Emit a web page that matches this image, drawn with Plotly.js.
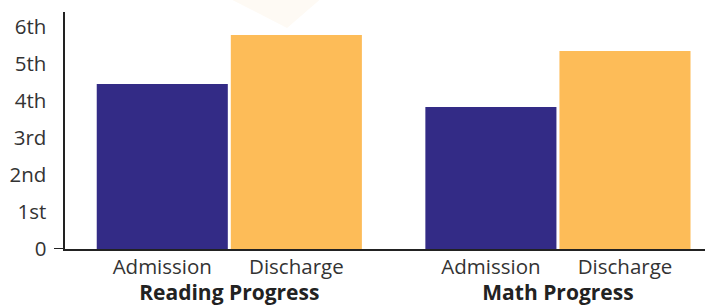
<!DOCTYPE html>
<html>
<head>
<meta charset="utf-8">
<script src="https://cdn.plot.ly/plotly-3.0.1.min.js"></script>
<style>html,body{margin:0;padding:0;background:#fff;}#chart{width:705px;height:307px;}</style>
</head>
<body>
<div id="chart"></div>
<script>
const categories = ["Reading Progress", "Math Progress"];
const seriesNames = ["Admission", "Discharge"];
const admission = [4.45, 3.83];
const discharge = [5.77, 5.34];
const yTickVals = [0, 1, 2, 3, 4, 5, 6];
const yTickText = ["0", "1st", "2nd", "3rd", "4th", "5th", "6th"];

const colors = ["#332b86", "#fdbc58"];
const bargap = 0.184;
const xRange = [-0.5, 1.4475];

// centers of the bars inside each group (for the per-bar labels on a companion axis)
const slot = (1 - bargap) / 2;
const barLabelVals = [];
const barLabelText = [];
categories.forEach((c, i) => {
  seriesNames.forEach((s, j) => {
    barLabelVals.push(i - (1 - bargap) / 2 + slot * (j + 0.5));
    barLabelText.push(s);
  });
});

const traces = [
  {type: "bar", name: seriesNames[0], x: categories, y: admission, marker: {color: colors[0]}, hoverinfo: "skip"},
  {type: "bar", name: seriesNames[1], x: categories, y: discharge, marker: {color: colors[1]}, hoverinfo: "skip"},
  {type: "scatter", mode: "markers", x: barLabelVals, y: barLabelVals.map(() => 0),
   xaxis: "x2", yaxis: "y", marker: {opacity: 0, size: 1}, hoverinfo: "skip", showlegend: false}
];

const layout = {
  width: 705, height: 307,
  margin: {l: 65, r: 0, t: 12, b: 58, pad: 0},
  paper_bgcolor: "#ffffff", plot_bgcolor: "#ffffff",
  showlegend: false,
  barmode: "group",
  bargap: bargap,
  bargroupgap: 0.0224,
  font: {family: "Open Sans, sans-serif", color: "#333333"},
  xaxis: {
    type: "category", range: xRange, showgrid: false, zeroline: false,
    showline: true, linecolor: "#222222", linewidth: 2, ticks: "",
    tickfont: {family: "Open Sans, sans-serif", size: 21, color: "#222222", weight: "bold"},
    ticklabelstandoff: 24, fixedrange: true
  },
  xaxis2: {
    overlaying: "x", anchor: "y", side: "bottom", type: "linear", range: xRange,
    showgrid: false, zeroline: false, showline: false, ticks: "",
    tickmode: "array", tickvals: barLabelVals, ticktext: barLabelText,
    tickfont: {family: "Open Sans, sans-serif", size: 20.5, color: "#333333"},
    ticklabelstandoff: 3
  },
  yaxis: {
    range: [0, 6.39], showgrid: false, zeroline: false,
    showline: true, linecolor: "#222222", linewidth: 2.5, ticks: "",
    tickmode: "array", tickvals: yTickVals, ticktext: yTickText,
    tickfont: {family: "Open Sans, sans-serif", size: 20.5, color: "#333333"},
    ticklabelstandoff: 12
  },
  shapes: [
    {type: "line", xref: "paper", yref: "y", x0: -0.0172, x1: 0, y0: 0, y1: 0,
     line: {color: "#222222", width: 2}},
    {type: "path", xref: "paper", yref: "paper", layer: "below",
     path: "M 0.2547 1.06 L 0.4016 1.06 L 0.347 0.9325 Z",
     fillcolor: "#fefaf4", line: {width: 0}}
  ]
};

Plotly.newPlot("chart", traces, layout, {displayModeBar: false, staticPlot: true});
</script>
</body>
</html>
